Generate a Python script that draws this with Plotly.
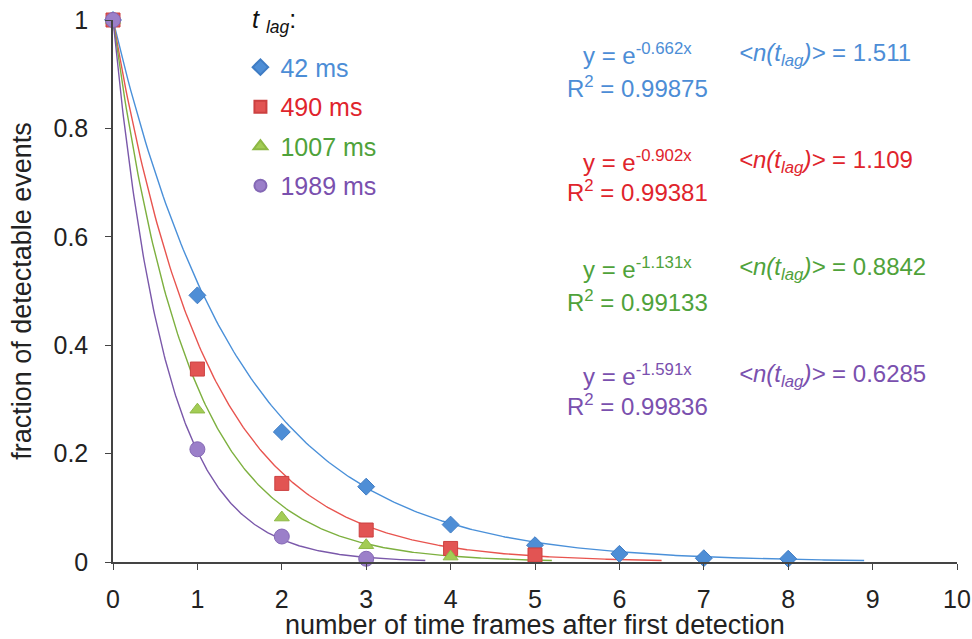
import numpy as np
import plotly.graph_objects as go

# ---- data ----
frames = [0, 1, 2, 3, 4, 5, 6, 7, 8]
y_42 = [1.0, 0.492, 0.240, 0.139, 0.069, 0.031, 0.015, 0.007, 0.006]
y_490 = [1.0, 0.356, 0.145, 0.059, 0.025, 0.013]
y_1007 = [1.0, 0.281, 0.082, 0.031, 0.010]
y_1989 = [1.0, 0.208, 0.047, 0.006]

series_names = ["42 ms", "490 ms", "1007 ms", "1989 ms"]
series_values = [y_42, y_490, y_1007, y_1989]
fit_rates = ["0.662", "0.902", "1.131", "1.591"]          # y = e^(-k x)
fit_r2 = ["0.99875", "0.99381", "0.99133", "0.99836"]
n_tlag = ["1.511", "1.109", "0.8842", "0.6285"]
fit_xmax = [8.9, 6.5, 5.2, 3.7]

symbols = ["diamond", "square", "triangle-up", "circle"]
marker_colors = ["#4E8ED6", "#E25453", "#A3CC55", "#9B7FC9"]
marker_lines = ["#3F7CC4", "#CC4040", "#8DB845", "#8468B5"]
marker_sizes = [13, 14, 13, 15]
curve_colors = ["#4A90D9", "#E8544F", "#7DB03F", "#7A58AA"]
text_colors = ["#4C8DD6", "#E0242C", "#4FA23A", "#7A50AE"]

eq_y = [0.9365, 0.7392, 0.5420, 0.3447]
r2_y = [0.8756, 0.6838, 0.4811, 0.2894]
eq_x = 6.22
n_x = 7.39

FONT = "Liberation Sans, Arial, sans-serif"
ANN = 24

fig = go.Figure()

# fitted curves (from the stated fit coefficients)
for k, xm, c in zip(fit_rates, fit_xmax, curve_colors):
    xs = np.linspace(0, xm, 300)
    fig.add_trace(go.Scatter(x=xs, y=np.exp(-float(k) * xs), mode="lines",
                             line=dict(color=c, width=1.4),
                             showlegend=False, hoverinfo="skip"))

# data markers
for i, (name, vals) in enumerate(zip(series_names, series_values)):
    fig.add_trace(go.Scatter(
        x=frames[:len(vals)], y=vals, mode="markers",
        name=f"<span style='color:{text_colors[i]}'>{name}</span>",
        legendgroup=f"g{i}",
        marker=dict(symbol=symbols[i], size=marker_sizes[i], color=marker_colors[i],
                    line=dict(color=marker_lines[i], width=1)),
        cliponaxis=False))

annotations = []
for i in range(4):
    annotations.append(dict(x=eq_x, y=eq_y[i], xref="x", yref="y",
                            text=f"y = e<sup>-{fit_rates[i]}x</sup>",
                            showarrow=False, xanchor="center", yanchor="middle",
                            font=dict(family=FONT, size=ANN, color=text_colors[i])))
    annotations.append(dict(x=eq_x, y=r2_y[i], xref="x", yref="y",
                            text=f"R<sup>2</sup> = {fit_r2[i]}",
                            showarrow=False, xanchor="center", yanchor="middle",
                            font=dict(family=FONT, size=ANN, color=text_colors[i])))
    annotations.append(dict(x=n_x, y=eq_y[i], xref="x", yref="y",
                            text=f"<i>&lt;n(t<sub>lag</sub>)&gt;</i> = {n_tlag[i]}",
                            showarrow=False, xanchor="left", yanchor="middle",
                            font=dict(family=FONT, size=ANN, color=text_colors[i])))

# legend heading
annotations.append(dict(x=0.162, y=0.998, xref="paper", yref="paper",
                        text="<i>t</i> <sub><i>lag</i></sub>:", showarrow=False,
                        xanchor="left", yanchor="middle",
                        font=dict(family=FONT, size=25, color="#111111")))
# x-axis title
annotations.append(dict(x=0.5, y=-0.116, xref="paper", yref="paper",
                        text="number of time frames after first detection", showarrow=False,
                        xanchor="center", yanchor="middle",
                        font=dict(family=FONT, size=27, color="#222222")))

fig.update_layout(
    width=972, height=639,
    margin=dict(l=113, r=15, t=20, b=77, autoexpand=False),
    paper_bgcolor="white", plot_bgcolor="white",
    font=dict(family=FONT, size=20, color="#222222"),
    showlegend=True,
    legend=dict(x=0.151, y=0.955, xanchor="left", yanchor="top",
                bgcolor="rgba(0,0,0,0)", font=dict(family=FONT, size=25),
                tracegroupgap=4, traceorder="grouped", itemsizing="constant"),
    annotations=annotations,
    xaxis=dict(range=[0, 10], tickmode="linear", tick0=0, dtick=1,
               showgrid=False, zeroline=False, showline=True, linecolor="#444444", linewidth=1.5,
               ticks="outside", ticklen=6, tickcolor="#444444", ticklabelstandoff=8,
               tickfont=dict(family=FONT, size=25, color="#222222")),
    yaxis=dict(range=[0, 1], tickmode="array", tickvals=[0, 0.2, 0.4, 0.6, 0.8, 1],
               ticktext=["0", "0.2", "0.4", "0.6", "0.8", "1"],
               showgrid=False, zeroline=False, showline=True, linecolor="#444444", linewidth=1.5,
               ticks="outside", ticklen=6, tickcolor="#444444", ticklabelstandoff=12,
               tickfont=dict(family=FONT, size=25, color="#222222"),
               title=dict(text="fraction of detectable events",
                          font=dict(family=FONT, size=27, color="#222222"), standoff=14)),
)

fig.write_html("out.html")
